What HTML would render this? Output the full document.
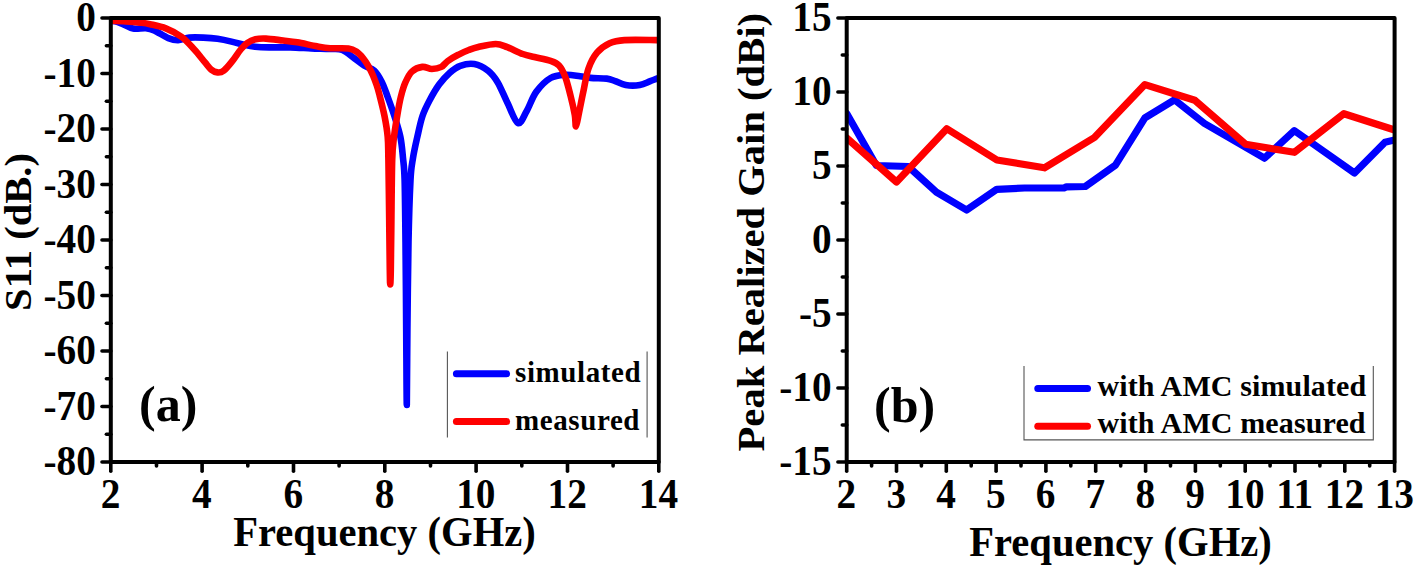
<!DOCTYPE html>
<html><head><meta charset="utf-8"><style>
html,body{margin:0;padding:0;background:#fff;}
svg{display:block;}
</style></head><body>
<svg width="1416" height="569" viewBox="0 0 1416 569">
<rect width="1416" height="569" fill="#fff"/>
<clipPath id="cl"><rect x="110.8" y="12.0" width="548.0" height="450.0"/></clipPath>
<g clip-path="url(#cl)" fill="none" stroke-linejoin="round" stroke-linecap="round" stroke-width="6.6">
<path d="M111.3,21.0 C112.2,21.1 115.0,21.3 117.0,21.8 C119.0,22.3 120.3,23.1 123.0,24.2 C125.7,25.3 129.3,27.9 133.1,28.6 C136.9,29.3 142.3,28.0 145.8,28.3 C149.3,28.6 150.4,28.8 154.2,30.4 C157.9,32.0 164.3,36.5 168.3,38.1 C172.3,39.7 174.6,40.3 178.1,40.2 C181.6,40.1 185.2,38.0 189.4,37.6 C193.6,37.2 198.7,37.4 203.4,37.6 C208.1,37.8 212.8,38.1 217.5,38.8 C222.2,39.5 226.8,40.5 231.5,41.6 C236.2,42.7 241.7,44.2 245.6,45.1 C249.5,46.0 251.1,46.3 255.0,46.7 C258.9,47.1 263.2,47.3 269.1,47.4 C275.0,47.5 283.1,47.2 290.1,47.4 C297.1,47.6 304.6,48.1 311.2,48.4 C317.8,48.7 324.8,48.7 330.0,49.0 C335.2,49.3 338.2,48.4 342.3,50.0 C346.4,51.6 350.9,55.9 354.6,58.5 C358.3,61.1 361.1,63.7 364.4,65.7 C367.7,67.7 371.4,67.9 374.3,70.6 C377.2,73.3 379.6,77.6 381.7,81.7 C383.8,85.8 384.9,89.3 387.0,95.0 C389.1,100.7 392.2,109.0 394.4,116.0 C396.6,123.0 399.0,130.0 400.4,137.0 C401.8,144.0 402.3,150.8 403.0,158.0 C403.7,165.2 404.2,166.0 404.6,180.0 C405.0,194.0 405.2,217.0 405.5,242.0 C405.8,267.0 406.0,302.8 406.2,330.0 C406.4,357.2 406.6,405.0 406.8,405.0 C407.0,405.0 407.1,357.2 407.4,330.0 C407.7,302.8 408.0,267.0 408.5,242.0 C409.0,217.0 409.8,194.0 410.5,180.0 C411.2,166.0 411.9,165.2 413.0,158.0 C414.1,150.8 415.7,144.0 417.3,137.0 C418.9,130.0 420.4,122.2 422.5,116.0 C424.6,109.8 427.0,105.3 429.8,100.0 C432.6,94.7 436.0,88.8 439.3,84.3 C442.6,79.8 446.3,75.8 449.8,72.7 C453.3,69.6 456.2,67.2 460.3,65.8 C464.4,64.3 469.8,63.2 474.4,64.0 C479.0,64.8 484.1,67.6 488.0,70.6 C491.9,73.6 494.4,76.9 497.6,82.2 C500.8,87.5 503.9,95.7 507.3,102.5 C510.7,109.3 514.7,121.5 517.9,123.0 C521.1,124.5 523.5,116.4 526.6,111.2 C529.7,106.0 532.3,97.3 536.3,91.8 C540.3,86.3 545.8,80.8 550.6,78.0 C555.4,75.2 560.4,75.1 565.3,74.8 C570.2,74.5 575.8,75.7 580.0,76.2 C584.2,76.7 586.0,77.5 590.5,77.9 C595.0,78.3 602.6,78.1 606.7,78.6 C610.8,79.1 612.0,80.0 615.2,81.1 C618.4,82.2 621.6,84.3 625.7,85.0 C629.8,85.7 635.7,85.7 639.8,85.0 C643.9,84.3 647.3,82.2 650.3,81.1 C653.2,80.0 656.3,78.9 657.5,78.4" stroke="#0000ff"/>
<path d="M111.3,20.8 C113.8,20.9 121.3,21.2 126.1,21.5 C130.9,21.8 136.0,22.2 140.0,22.6 C144.0,23.1 145.7,23.2 150.0,24.2 C154.3,25.2 160.5,26.3 165.8,28.4 C171.1,30.5 176.8,33.4 181.6,36.9 C186.3,40.4 190.4,45.3 194.3,49.5 C198.2,53.7 202.0,58.9 204.8,62.2 C207.6,65.5 209.1,67.9 211.2,69.6 C213.3,71.3 215.4,72.2 217.5,72.4 C219.6,72.6 221.3,72.5 223.8,70.6 C226.3,68.7 229.5,64.6 232.3,61.1 C235.1,57.6 238.2,52.5 240.7,49.5 C243.1,46.5 244.5,44.9 247.0,43.2 C249.5,41.5 252.3,40.1 255.5,39.3 C258.7,38.5 261.4,38.4 266.0,38.6 C270.6,38.8 277.9,39.9 283.1,40.5 C288.3,41.1 291.6,41.3 297.2,42.3 C302.8,43.3 311.4,45.3 316.9,46.3 C322.4,47.3 324.7,47.8 330.0,48.2 C335.3,48.6 344.0,47.9 348.5,48.5 C353.0,49.1 354.6,50.5 357.0,52.1 C359.4,53.7 361.3,56.0 363.2,58.3 C365.1,60.6 366.5,62.8 368.1,65.7 C369.7,68.6 371.6,72.2 373.0,75.5 C374.4,78.8 375.6,82.0 376.7,85.3 C377.8,88.5 378.2,89.9 379.5,95.0 C380.8,100.1 383.1,109.0 384.5,116.0 C385.9,123.0 387.1,129.7 387.7,137.0 C388.3,144.3 388.1,146.2 388.4,160.0 C388.6,173.8 389.0,201.7 389.2,220.0 C389.4,238.3 389.6,259.2 389.8,270.0 C390.0,280.8 390.0,284.5 390.2,284.5 C390.4,284.5 390.6,280.8 390.8,270.0 C391.0,259.2 391.2,238.3 391.4,220.0 C391.6,201.7 391.8,173.8 392.2,160.0 C392.6,146.2 393.2,144.3 394.0,137.0 C394.8,129.7 396.1,122.7 397.2,116.0 C398.3,109.3 399.4,102.6 400.8,97.0 C402.2,91.4 403.6,86.4 405.5,82.2 C407.4,78.0 409.1,74.1 411.9,71.6 C414.7,69.0 419.1,67.3 422.4,66.9 C425.7,66.5 428.7,69.0 431.9,69.0 C435.1,69.0 438.8,68.2 441.4,66.9 C444.0,65.6 444.9,63.1 447.7,61.1 C450.5,59.1 454.7,56.6 458.2,54.8 C461.7,52.9 465.4,51.3 468.8,50.0 C472.2,48.7 473.8,48.0 478.3,47.0 C482.8,46.0 490.9,44.0 495.7,44.0 C500.5,44.0 502.8,45.5 507.3,47.2 C511.8,48.9 518.3,52.4 522.8,54.0 C527.3,55.6 529.7,55.9 534.3,57.0 C538.9,58.1 546.5,59.4 550.6,60.8 C554.7,62.2 556.5,62.7 559.0,65.4 C561.5,68.1 563.4,71.9 565.3,77.0 C567.2,82.1 569.0,89.7 570.6,96.0 C572.2,102.3 573.9,109.9 574.8,115.0 C575.7,120.1 575.3,126.8 576.0,126.5 C576.7,126.2 577.8,118.7 579.0,112.9 C580.2,107.1 581.7,99.2 583.3,91.8 C584.9,84.4 586.2,75.0 588.5,68.5 C590.8,62.0 593.5,56.9 597.0,52.7 C600.5,48.5 605.0,45.3 609.6,43.2 C614.2,41.1 616.5,40.6 624.4,40.1 C632.3,39.6 651.6,40.1 657.1,40.1" stroke="#ff0000"/>
</g>
<g stroke="#000" stroke-linecap="round" fill="none">
<rect x="110.8" y="18.0" width="548.0" height="444.0" stroke-width="4.0" stroke-linejoin="round"/>
<line x1="102.0" y1="18.0" x2="110.8" y2="18.0" stroke-width="3.6"/>
<line x1="102.0" y1="73.5" x2="110.8" y2="73.5" stroke-width="3.6"/>
<line x1="102.0" y1="129.0" x2="110.8" y2="129.0" stroke-width="3.6"/>
<line x1="102.0" y1="184.5" x2="110.8" y2="184.5" stroke-width="3.6"/>
<line x1="102.0" y1="240.0" x2="110.8" y2="240.0" stroke-width="3.6"/>
<line x1="102.0" y1="295.5" x2="110.8" y2="295.5" stroke-width="3.6"/>
<line x1="102.0" y1="351.0" x2="110.8" y2="351.0" stroke-width="3.6"/>
<line x1="102.0" y1="406.5" x2="110.8" y2="406.5" stroke-width="3.6"/>
<line x1="102.0" y1="462.0" x2="110.8" y2="462.0" stroke-width="3.6"/>
<line x1="106.4" y1="45.8" x2="110.8" y2="45.8" stroke-width="3.6"/>
<line x1="106.4" y1="101.2" x2="110.8" y2="101.2" stroke-width="3.6"/>
<line x1="106.4" y1="156.8" x2="110.8" y2="156.8" stroke-width="3.6"/>
<line x1="106.4" y1="212.2" x2="110.8" y2="212.2" stroke-width="3.6"/>
<line x1="106.4" y1="267.8" x2="110.8" y2="267.8" stroke-width="3.6"/>
<line x1="106.4" y1="323.2" x2="110.8" y2="323.2" stroke-width="3.6"/>
<line x1="106.4" y1="378.8" x2="110.8" y2="378.8" stroke-width="3.6"/>
<line x1="106.4" y1="434.2" x2="110.8" y2="434.2" stroke-width="3.6"/>
<line x1="110.8" y1="462.0" x2="110.8" y2="471.2" stroke-width="3.6"/>
<line x1="202.1" y1="462.0" x2="202.1" y2="471.2" stroke-width="3.6"/>
<line x1="293.5" y1="462.0" x2="293.5" y2="471.2" stroke-width="3.6"/>
<line x1="384.8" y1="462.0" x2="384.8" y2="471.2" stroke-width="3.6"/>
<line x1="476.1" y1="462.0" x2="476.1" y2="471.2" stroke-width="3.6"/>
<line x1="567.5" y1="462.0" x2="567.5" y2="471.2" stroke-width="3.6"/>
<line x1="658.8" y1="462.0" x2="658.8" y2="471.2" stroke-width="3.6"/>
<line x1="156.5" y1="462.0" x2="156.5" y2="466.0" stroke-width="3.6"/>
<line x1="247.8" y1="462.0" x2="247.8" y2="466.0" stroke-width="3.6"/>
<line x1="339.1" y1="462.0" x2="339.1" y2="466.0" stroke-width="3.6"/>
<line x1="430.5" y1="462.0" x2="430.5" y2="466.0" stroke-width="3.6"/>
<line x1="521.8" y1="462.0" x2="521.8" y2="466.0" stroke-width="3.6"/>
<line x1="613.1" y1="462.0" x2="613.1" y2="466.0" stroke-width="3.6"/>
</g>
<g font-family='"Liberation Serif", serif' font-weight="bold" font-size="40.5" fill="#000">
<text transform="translate(95.8,31.1) scale(0.970,1.060)" text-anchor="end">0</text>
<text transform="translate(95.8,86.6) scale(0.970,1.060)" text-anchor="end">-10</text>
<text transform="translate(95.8,142.1) scale(0.970,1.060)" text-anchor="end">-20</text>
<text transform="translate(95.8,197.6) scale(0.970,1.060)" text-anchor="end">-30</text>
<text transform="translate(95.8,253.1) scale(0.970,1.060)" text-anchor="end">-40</text>
<text transform="translate(95.8,308.6) scale(0.970,1.060)" text-anchor="end">-50</text>
<text transform="translate(95.8,364.1) scale(0.970,1.060)" text-anchor="end">-60</text>
<text transform="translate(95.8,419.6) scale(0.970,1.060)" text-anchor="end">-70</text>
<text transform="translate(95.8,475.1) scale(0.970,1.060)" text-anchor="end">-80</text>
<text transform="translate(110.5,508.2) scale(0.970,1.060)" text-anchor="middle">2</text>
<text transform="translate(201.8,508.2) scale(0.970,1.060)" text-anchor="middle">4</text>
<text transform="translate(293.2,508.2) scale(0.970,1.060)" text-anchor="middle">6</text>
<text transform="translate(384.5,508.2) scale(0.970,1.060)" text-anchor="middle">8</text>
<text transform="translate(475.8,508.2) scale(0.970,1.060)" text-anchor="middle">10</text>
<text transform="translate(567.2,508.2) scale(0.970,1.060)" text-anchor="middle">12</text>
<text transform="translate(658.5,508.2) scale(0.970,1.060)" text-anchor="middle">14</text>
</g>
<clipPath id="cr"><rect x="846.7" y="18.0" width="547.9" height="444.0"/></clipPath>
<g clip-path="url(#cr)" fill="none" stroke-linejoin="round" stroke-linecap="round" stroke-width="7.2">
<path d="M846.7,113.5 L876.4,165.5 L908.3,166.5 L936.4,192.2 L966.6,210.0 L996.8,189.3 L1024.6,188.0 L1064.0,188.0 L1066.5,186.8 L1085.3,186.5 L1115.3,165.3 L1144.9,117.8 L1174.5,99.8 L1204.5,123.5 L1264.5,158.2 L1294.3,130.6 L1354.5,173.0 L1385.0,142.2 L1394.6,140.0" stroke="#0000ff"/>
<path d="M846.7,138.0 L896.5,182.0 L946.8,128.8 L996.9,160.0 L1044.4,167.8 L1094.4,137.5 L1144.9,84.6 L1194.8,100.3 L1245.6,144.3 L1294.3,152.3 L1343.9,113.7 L1394.6,130.0" stroke="#ff0000"/>
</g>
<g stroke="#000" stroke-linecap="round" fill="none">
<rect x="846.7" y="18.0" width="547.9" height="444.0" stroke-width="4.0" stroke-linejoin="round"/>
<line x1="837.9" y1="18.0" x2="846.7" y2="18.0" stroke-width="3.6"/>
<line x1="837.9" y1="92.0" x2="846.7" y2="92.0" stroke-width="3.6"/>
<line x1="837.9" y1="166.0" x2="846.7" y2="166.0" stroke-width="3.6"/>
<line x1="837.9" y1="240.0" x2="846.7" y2="240.0" stroke-width="3.6"/>
<line x1="837.9" y1="314.0" x2="846.7" y2="314.0" stroke-width="3.6"/>
<line x1="837.9" y1="388.0" x2="846.7" y2="388.0" stroke-width="3.6"/>
<line x1="837.9" y1="462.0" x2="846.7" y2="462.0" stroke-width="3.6"/>
<line x1="842.3" y1="55.0" x2="846.7" y2="55.0" stroke-width="3.6"/>
<line x1="842.3" y1="129.0" x2="846.7" y2="129.0" stroke-width="3.6"/>
<line x1="842.3" y1="203.0" x2="846.7" y2="203.0" stroke-width="3.6"/>
<line x1="842.3" y1="277.0" x2="846.7" y2="277.0" stroke-width="3.6"/>
<line x1="842.3" y1="351.0" x2="846.7" y2="351.0" stroke-width="3.6"/>
<line x1="842.3" y1="425.0" x2="846.7" y2="425.0" stroke-width="3.6"/>
<line x1="846.7" y1="462.0" x2="846.7" y2="471.2" stroke-width="3.6"/>
<line x1="896.5" y1="462.0" x2="896.5" y2="471.2" stroke-width="3.6"/>
<line x1="946.3" y1="462.0" x2="946.3" y2="471.2" stroke-width="3.6"/>
<line x1="996.1" y1="462.0" x2="996.1" y2="471.2" stroke-width="3.6"/>
<line x1="1045.9" y1="462.0" x2="1045.9" y2="471.2" stroke-width="3.6"/>
<line x1="1095.7" y1="462.0" x2="1095.7" y2="471.2" stroke-width="3.6"/>
<line x1="1145.6" y1="462.0" x2="1145.6" y2="471.2" stroke-width="3.6"/>
<line x1="1195.4" y1="462.0" x2="1195.4" y2="471.2" stroke-width="3.6"/>
<line x1="1245.2" y1="462.0" x2="1245.2" y2="471.2" stroke-width="3.6"/>
<line x1="1295.0" y1="462.0" x2="1295.0" y2="471.2" stroke-width="3.6"/>
<line x1="1344.8" y1="462.0" x2="1344.8" y2="471.2" stroke-width="3.6"/>
<line x1="1394.6" y1="462.0" x2="1394.6" y2="471.2" stroke-width="3.6"/>
<line x1="871.6" y1="462.0" x2="871.6" y2="466.0" stroke-width="3.6"/>
<line x1="921.4" y1="462.0" x2="921.4" y2="466.0" stroke-width="3.6"/>
<line x1="971.2" y1="462.0" x2="971.2" y2="466.0" stroke-width="3.6"/>
<line x1="1021.0" y1="462.0" x2="1021.0" y2="466.0" stroke-width="3.6"/>
<line x1="1070.8" y1="462.0" x2="1070.8" y2="466.0" stroke-width="3.6"/>
<line x1="1120.7" y1="462.0" x2="1120.7" y2="466.0" stroke-width="3.6"/>
<line x1="1170.5" y1="462.0" x2="1170.5" y2="466.0" stroke-width="3.6"/>
<line x1="1220.3" y1="462.0" x2="1220.3" y2="466.0" stroke-width="3.6"/>
<line x1="1270.1" y1="462.0" x2="1270.1" y2="466.0" stroke-width="3.6"/>
<line x1="1319.9" y1="462.0" x2="1319.9" y2="466.0" stroke-width="3.6"/>
<line x1="1369.7" y1="462.0" x2="1369.7" y2="466.0" stroke-width="3.6"/>
</g>
<g font-family='"Liberation Serif", serif' font-weight="bold" font-size="40.5" fill="#000">
<text transform="translate(831.6,31.1) scale(0.970,1.060)" text-anchor="end">15</text>
<text transform="translate(831.6,105.1) scale(0.970,1.060)" text-anchor="end">10</text>
<text transform="translate(831.6,179.1) scale(0.970,1.060)" text-anchor="end">5</text>
<text transform="translate(831.6,253.1) scale(0.970,1.060)" text-anchor="end">0</text>
<text transform="translate(831.6,327.1) scale(0.970,1.060)" text-anchor="end">-5</text>
<text transform="translate(831.6,401.1) scale(0.970,1.060)" text-anchor="end">-10</text>
<text transform="translate(831.6,475.1) scale(0.970,1.060)" text-anchor="end">-15</text>
<text transform="translate(846.4,508.2) scale(0.970,1.060)" text-anchor="middle">2</text>
<text transform="translate(896.2,508.2) scale(0.970,1.060)" text-anchor="middle">3</text>
<text transform="translate(946.0,508.2) scale(0.970,1.060)" text-anchor="middle">4</text>
<text transform="translate(995.8,508.2) scale(0.970,1.060)" text-anchor="middle">5</text>
<text transform="translate(1045.6,508.2) scale(0.970,1.060)" text-anchor="middle">6</text>
<text transform="translate(1095.4,508.2) scale(0.970,1.060)" text-anchor="middle">7</text>
<text transform="translate(1145.3,508.2) scale(0.970,1.060)" text-anchor="middle">8</text>
<text transform="translate(1195.1,508.2) scale(0.970,1.060)" text-anchor="middle">9</text>
<text transform="translate(1244.9,508.2) scale(0.970,1.060)" text-anchor="middle">10</text>
<text transform="translate(1294.7,508.2) scale(0.970,1.060)" text-anchor="middle">11</text>
<text transform="translate(1344.5,508.2) scale(0.970,1.060)" text-anchor="middle">12</text>
<text transform="translate(1394.3,508.2) scale(0.970,1.060)" text-anchor="middle">13</text>
</g>
<g font-family='"Liberation Serif", serif' font-weight="bold" font-size="40.6" fill="#000">
<text transform="translate(384.5,545.6) scale(1,1.060)" text-anchor="middle">Frequency (GHz)</text>
<text transform="translate(1120.5,556) scale(1,1.060)" text-anchor="middle">Frequency (GHz)</text>
<text transform="translate(31.0,232) rotate(-90) scale(1,0.943)" text-anchor="middle">S11 (dB.)</text>
<text transform="translate(763.7,232.2) rotate(-90) scale(1,0.943)" text-anchor="middle">Peak Realized Gain (dBi)</text>
</g>
<g font-family='"Liberation Serif", serif' font-weight="bold" font-size="50" fill="#000">
<text x="139" y="421">(a)</text>
<text x="874" y="421.5">(b)</text>
</g>
<g stroke="#555" stroke-width="1.1" fill="none">
<line x1="447.4" y1="351.4" x2="447.4" y2="437.5"/>
<line x1="647.1" y1="351.4" x2="647.1" y2="437.5"/>
<polyline points="1024,366 1024,439.9 1373.3,439.9 1373.3,366"/>
</g>
<g stroke-linecap="round" stroke-width="7">
<line x1="456.4" y1="373.8" x2="506.6" y2="373.8" stroke="#0000ff"/>
<line x1="456.4" y1="421.6" x2="506.6" y2="421.6" stroke="#ff0000"/>
<line x1="1037.8" y1="388.4" x2="1087.5" y2="388.4" stroke="#0000ff"/>
<line x1="1037.8" y1="426.2" x2="1087.5" y2="426.2" stroke="#ff0000"/>
</g>
<g font-family='"Liberation Serif", serif' font-weight="bold" font-size="29" letter-spacing="0.6" fill="#000">
<text x="515" y="381.8">simulated</text>
<text x="515" y="429.5">measured</text>
</g>
<g font-family='"Liberation Serif", serif' font-weight="bold" font-size="30" letter-spacing="0.12" fill="#000">
<text x="1097.5" y="396.4">with AMC simulated</text>
<text x="1097.5" y="433.4">with AMC measured</text>
</g>
</svg>
</body></html>
